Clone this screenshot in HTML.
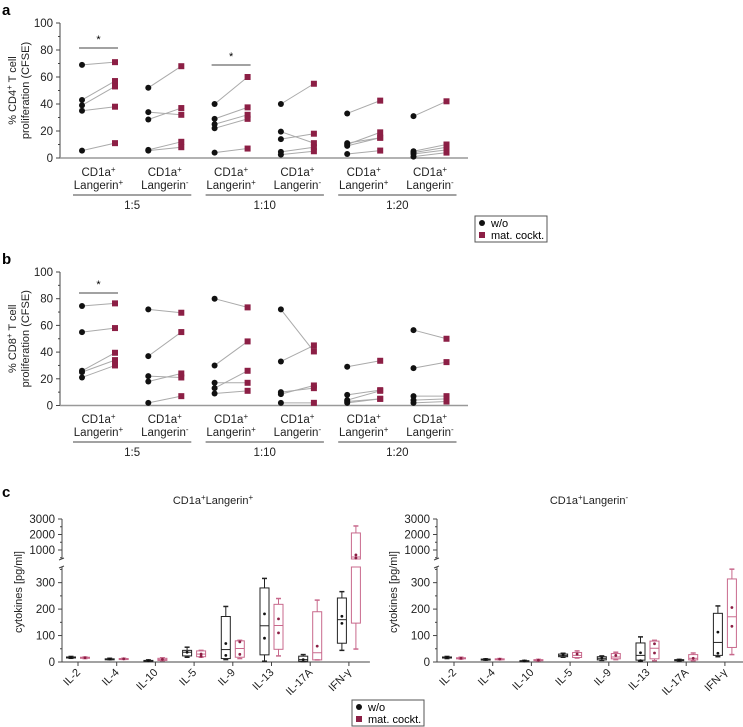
<!DOCTYPE html>
<html><head><meta charset="utf-8">
<style>
html,body{margin:0;padding:0;background:#fff;}
svg{display:block;font-family:"Liberation Sans",Arial,sans-serif;}
</style></head>
<body>
<svg id="fig" width="743" height="727" viewBox="0 0 743 727" xmlns="http://www.w3.org/2000/svg"></svg>
<script>
// ---------- Panel a/b data ----------
const pairCategories = ["CD1a+ Langerin+","CD1a+ Langerin-","CD1a+ Langerin+","CD1a+ Langerin-","CD1a+ Langerin+","CD1a+ Langerin-"];
const ratioLabels = ["1:5","1:10","1:20"];
const yTicksAB = [0,20,40,60,80,100];
const cd4Without = [[69,43,39,35,5.5],[52,34,28.5,6,5.5],[40,29,25,22,4],[40,19.5,14,4.5,2.5],[33,11,10,9,3],[31,5,4,3,1]];
const cd4Mat     = [[71,57,53,38,11],[68,32,37,12,8],[60,37.5,32,29,7],[55,11,18,8,5],[42.5,15,19,15,5.5],[42,10,8,6,4]];
const cd8Without = [[74.5,55,26,25,21],[72,37,22,18,2],[80,30,13,17,9],[72,33,10,8.5,2],[29,8,4,3,2],[56.5,28,7,4,2]];
const cd8Mat     = [[76.5,58,39.5,34,30],[69.5,55,21,24,7],[73.5,48,26,17,11],[40.5,45,13,15,2],[33.5,11.5,11,5,5],[50,32.5,7,5,3]];
// ---------- Panel c data ----------
const cytokines = ["IL-2","IL-4","IL-10","IL-5","IL-9","IL-13","IL-17A","IFN-γ"];
const cTicksLow = [0,100,200,300];
const cTicksHigh = [1000,2000,3000];
// [min,q1,median,q3,max]
const lpWithout = [[14,16,17,19,21],[9,10,11,12,14],[3,4,5,6,8],[18,23,37,44,56],[9,13,47,172,210],[3,27,137,280,316],[1,3,9,22,28],[44,71,160,242,266]];
const lpWithoutPts = [[17],[11],[5],[37],[70,25],[182,90],[9],[173,146]];
const lpMat = [[13,14,16,18,19],[10,11,12,13,14],[5,6,9,14,16],[18,20,30,42,44],[13,18,51,80,82],[23,48,138,218,240],[8,8,35,190,234],[49,147,550,2100,2550]];
const lpMatPts = [[16],[12],[10],[30,22],[76,29],[163,110],[60],[680,480]];
const lnWithout = [[13,15,17,19,21],[7,8,10,11,12],[2,3,4,5,6],[18,20,24,30,33],[6,8,14,20,23],[3,7,25,72,95],[4,5,7,9,10],[20,25,74,184,212]];
const lnWithoutPts = [[17],[10],[4],[27],[15],[35,5],[7],[113,33]];
const lnMat = [[11,12,14,16,18],[9,10,11,12,13],[4,5,7,9,10],[15,17,25,36,42],[9,12,19,32,37],[5,12,52,79,82],[5,8,14,28,34],[28,55,171,314,351]];
const lnMatPts = [[14],[11],[7],[30],[25],[69,34],[14],[206,135]];

const RED = "#8c1f45", PINK = "#c8698c", GRAY = "#aaaaaa";
const svg = document.getElementById("fig");
const NS = "http://www.w3.org/2000/svg";
function mk(tag, attrs, parent, text){
  const e = document.createElementNS(NS, tag);
  for (const k in attrs) e.setAttribute(k, attrs[k]);
  if (text !== undefined) e.textContent = text;
  (parent||svg).appendChild(e);
  return e;
}

// ---------- Panels a & b ----------
function pairPanel(letter, top0, top100, labelTop, wo, mat, sig, yname){
  const g = mk("g", {});
  
  
  const y = v => top0 - (top0 - top100) * v / 100;
  const xw = i => 82 + i * 66.3;
  const xm = i => 115 + i * 66.3;
  const pl = mk("text", {x:2, y: top100 - 8, "font-size":15, "font-weight":"bold"}, g, letter);
  
  
  const ax = mk("line", {x1:60, y1:top100, x2:60, y2:top0, stroke:"#444", "stroke-width":1}, g);
  
  
  for (let v = 0; v <= 100; v += 10) {
    mk("line", {x1:(v%20===0)?56:58, y1:y(v), x2:60, y2:y(v), stroke:"#444"}, g);
  }
  yTicksAB.forEach(v => {
    const t = mk("text", {x:53, y:y(v)+4, "font-size":11.5, "text-anchor":"end", fill:"#222"}, g, String(v));
    
    
  });
  const yl = mk("text", {transform:`translate(16,${(top0+top100)/2}) rotate(-90)`, "font-size":11, "text-anchor":"middle", fill:"#222"}, g);
  
  
  mk("tspan", {x:0, dy:0}, yl, "% " + yname);
  mk("tspan", {"baseline-shift":"super", "font-size":8}, yl, "+");
  mk("tspan", {}, yl, " T cell");
  mk("tspan", {x:0, dy:13}, yl, "proliferation (CFSE)");
  const bl = mk("line", {x1:60, y1:top0, x2:468, y2:top0, stroke:"#999", "stroke-width":1.5}, g);
  
  
  pairCategories.forEach((c, i) => {
    const cx = (xw(i) + xm(i)) / 2;
    const sign = c.endsWith("+") ? "+" : "-";
    const t = mk("text", {x:cx, y:labelTop, "font-size":11.5, "text-anchor":"middle", fill:"#222"}, g);
    
    
    mk("tspan", {}, t, "CD1a");
    mk("tspan", {"baseline-shift":"super", "font-size":8}, t, "+");
    const t2 = mk("text", {x:cx, y:labelTop+13, "font-size":11.5, "text-anchor":"middle", fill:"#222"}, g);
    
    
    mk("tspan", {}, t2, "Langerin");
    mk("tspan", {"baseline-shift":"super", "font-size":8}, t2, sign);
  });
  ratioLabels.forEach((r, k) => {
    const x1 = xw(2*k) - 9, x2 = xm(2*k+1) + 10;
    mk("line", {x1, y1:labelTop+19, x2, y2:labelTop+19, stroke:"#444"}, g);
    const t = mk("text", {x:(x1+x2)/2, y:labelTop+33, "font-size":11.5, "text-anchor":"middle", fill:"#222"}, g, r);
    
    
  });
  wo.forEach((arr, i) => arr.forEach((v, j) => {
    mk("line", {x1:xw(i), y1:y(v), x2:xm(i), y2:y(mat[i][j]), stroke:GRAY, "stroke-width":1}, g);
  }));
  wo.forEach((arr, i) => arr.forEach(v => {
    const c = mk("circle", {cx:xw(i), cy:y(v), r:3, fill:"#111"}, g);
    
    
  }));
  mat.forEach((arr, i) => arr.forEach(v => {
    const r = mk("rect", {x:xm(i)-3, y:y(v)-3, width:6, height:6, fill:RED}, g);
    
    
  }));
  sig.forEach(s => {
    mk("line", {x1:xw(s.i)-3, y1:s.y, x2:xm(s.i)+3, y2:s.y, stroke:"#444"}, g);
    const t = mk("text", {x:(xw(s.i)+xm(s.i))/2, y:s.y-5, "font-size":11, "text-anchor":"middle"}, g, "*");
    
    
  });
}
pairPanel("a", 158, 23, 176, cd4Without, cd4Mat, [{i:0,y:48},{i:2,y:65}], "CD4");
pairPanel("b", 405.5, 272, 423, cd8Without, cd8Mat, [{i:0,y:293}], "CD8");

function legend(x, y, w, name){
  const g = mk("g", {});
  
  
  mk("rect", {x, y, width:w, height:26, fill:"#fff", stroke:"#555"}, g);
  mk("circle", {cx:x+7, cy:y+7, r:3, fill:"#111"}, g);
  mk("text", {x:x+16, y:y+11, "font-size":11}, g, "w/o");
  mk("rect", {x:x+4, y:y+16, width:6, height:6, fill:RED}, g);
  mk("text", {x:x+16, y:y+23, "font-size":11}, g, "mat. cockt.");
}
legend(475, 216, 72, "legend-a");

// ---------- Panel c ----------
function yc(v){
  if (v <= 360) return 662 - v * 0.2645;
  if (v < 420) return 559;
  return 550 - (v - 1000) * 0.0155;
}
function boxPanel(ax0, xStart, title, wo, woPts, mat, matPts, name){
  const g = mk("g", {});
  
  
  const xb = i => xStart + i * 38.7;
  const xr = i => xStart + 14 + i * 38.7;
  const tt = mk("text", {x:xStart + 142, y:504, "font-size":11, "text-anchor":"middle", fill:"#222"}, g);
  
  
  mk("tspan", {}, tt, "CD1a");
  mk("tspan", {"baseline-shift":"super", "font-size":8}, tt, "+");
  mk("tspan", {}, tt, title.replace(/[+-]$/,""));
  mk("tspan", {"baseline-shift":"super", "font-size":8}, tt, title.slice(-1));
  mk("line", {x1:ax0, y1:567, x2:ax0, y2:662, stroke:"#444"}, g);
  mk("line", {x1:ax0, y1:519, x2:ax0, y2:559, stroke:"#444"}, g);
  mk("line", {x1:ax0-3, y1:560, x2:ax0+2, y2:558, stroke:"#444"}, g);
  mk("line", {x1:ax0-3, y1:568, x2:ax0+2, y2:566, stroke:"#444"}, g);
  for (let v = 0; v <= 350; v += 50) mk("line", {x1:(v%100===0)?ax0-4:ax0-2, y1:yc(v), x2:ax0, y2:yc(v), stroke:"#444"}, g);
  for (let v = 500; v <= 3000; v += 500) mk("line", {x1:(v%1000===0)?ax0-4:ax0-2, y1:yc(v), x2:ax0, y2:yc(v), stroke:"#444"}, g);
  cTicksLow.concat(cTicksHigh).forEach(v => {
    const t = mk("text", {x:ax0-7, y:yc(v)+4, "font-size":11.5, "text-anchor":"end", fill:"#222"}, g, String(v));
    
    
  });
  const yl = mk("text", {transform:`translate(${ax0-40},592) rotate(-90)`, "font-size":11, "text-anchor":"middle", fill:"#222"}, g, "cytokines [pg/ml]");
  
  
  mk("line", {x1:ax0, y1:662, x2:xb(7)+28, y2:662, stroke:"#444"}, g);
  cytokines.forEach((c, i) => {
    const cx = (xb(i) + xr(i)) / 2;
    mk("line", {x1:cx, y1:662, x2:cx, y2:666, stroke:"#444"}, g);
    const t = mk("text", {transform:`translate(${cx+3},${673}) rotate(-45)`, "font-size":11, "text-anchor":"end", fill:"#222"}, g, c);
    
    
  });
  function drawBox(x, s, pts, col, ptCol, nm){
    const bg = mk("g", {}, g);
    
    
    const [mn, q1, md, q3, mx] = s;
    mk("line", {x1:x, y1:yc(mx), x2:x, y2:yc(q3), stroke:col}, bg);
    mk("line", {x1:x, y1:yc(q1), x2:x, y2:yc(mn), stroke:col}, bg);
    mk("line", {x1:x-2.5, y1:yc(mx), x2:x+2.5, y2:yc(mx), stroke:col, "stroke-width":1.5}, bg);
    mk("line", {x1:x-2.5, y1:yc(mn), x2:x+2.5, y2:yc(mn), stroke:col, "stroke-width":1.5}, bg);
    if (q3 > 420 && q1 < 360) {
      mk("rect", {x:x-4.5, y:yc(q3), width:9, height:559-yc(q3), fill:"none", stroke:col}, bg);
      mk("rect", {x:x-4.5, y:567, width:9, height:yc(q1)-567, fill:"none", stroke:col}, bg);
    } else {
      mk("rect", {x:x-4.5, y:yc(q3), width:9, height:Math.max(1, yc(q1)-yc(q3)), fill:"none", stroke:col}, bg);
    }
    mk("line", {x1:x-4.5, y1:yc(md), x2:x+4.5, y2:yc(md), stroke:col}, bg);
    pts.forEach(p => mk("circle", {cx:x, cy:yc(p), r:1.4, fill:ptCol}, bg));
  }
  wo.forEach((s, i) => drawBox(xb(i), s, woPts[i], "#222", "#111", "box-without-" + cytokines[i]));
  mat.forEach((s, i) => drawBox(xr(i), s, matPts[i], PINK, RED, "box-mat-" + cytokines[i]));
}
boxPanel(62, 71, "Langerin+", lpWithout, lpWithoutPts, lpMat, lpMatPts, "panel-c-langerin-pos");
boxPanel(437, 447, "Langerin-", lnWithout, lnWithoutPts, lnMat, lnMatPts, "panel-c-langerin-neg");
const pc = mk("text", {x:2, y:497, "font-size":15, "font-weight":"bold"}, svg, "c");


legend(352, 700, 72, "legend-c");
</script>
</body></html>
